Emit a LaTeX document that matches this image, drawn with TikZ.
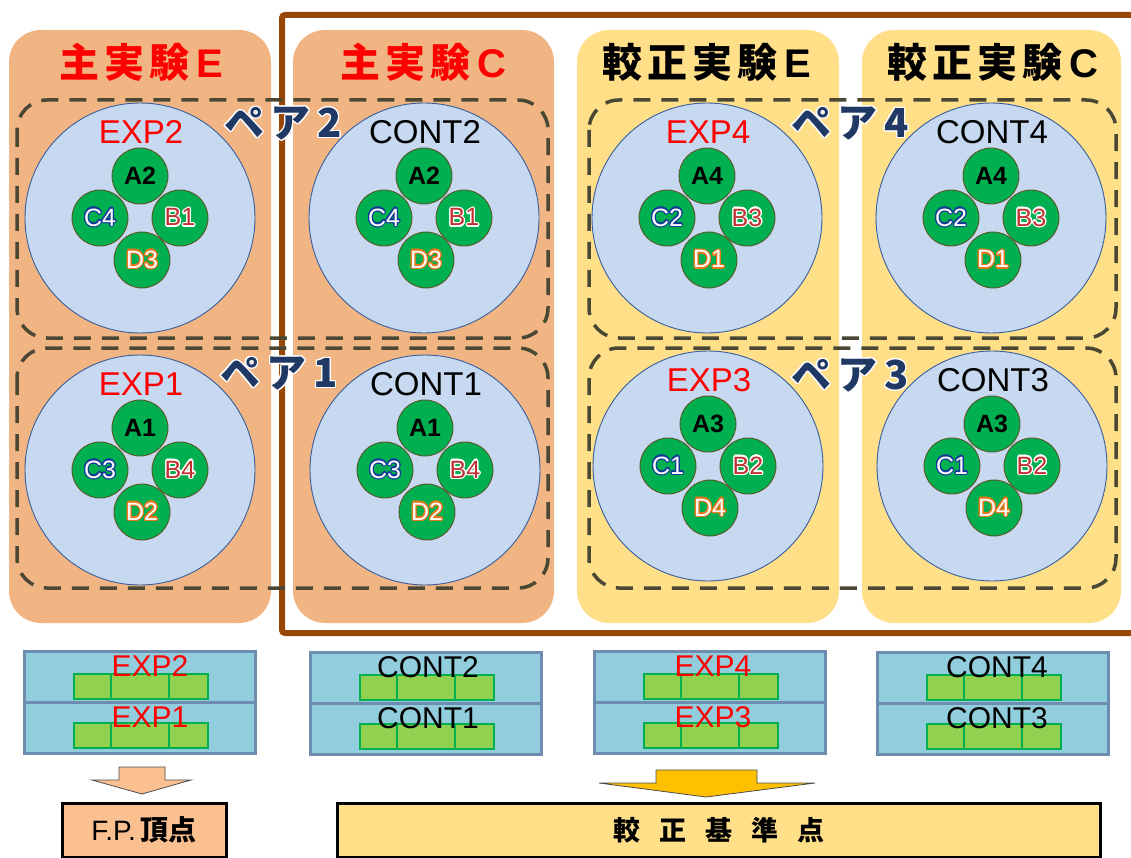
\documentclass[tikz,border=0pt]{standalone}
\usepackage{fontspec}
\setmainfont{Liberation Sans}
\newfontfamily\jpfont{Noto Sans CJK JP}
\usepackage[copies]{contour}
\contourlength{1.2pt}
\contournumber{20}

\definecolor{panelorange}{RGB}{241,181,131}
\definecolor{panelyellow}{RGB}{255,223,136}
\definecolor{framebrown}{RGB}{151,72,6}
\definecolor{pairgray}{RGB}{74,72,52}
\definecolor{pairnavy}{RGB}{31,56,100}
\definecolor{dishblue}{RGB}{198,217,240}
\definecolor{dishedge}{RGB}{56,93,160}
\definecolor{spotgreen}{RGB}{0,176,80}
\definecolor{spotedge}{RGB}{95,85,40}
\definecolor{bred}{RGB}{192,50,50}
\definecolor{cblue}{RGB}{20,60,150}
\definecolor{dorange}{RGB}{230,120,30}
\definecolor{trayblue}{RGB}{146,205,221}
\definecolor{trayedge}{RGB}{110,140,175}
\definecolor{brickgreen}{RGB}{146,208,80}
\definecolor{brickedge}{RGB}{0,176,80}
\definecolor{fporange}{RGB}{250,192,144}
\definecolor{goldarrow}{RGB}{255,192,0}

% spaced heading: CJK part, then latin letter
\newcommand{\heading}[2]{{\jpfont\bfseries #1}\hspace{7pt}{\bfseries #2}}
\newcommand{\gap}{\hspace{5pt}}

\tikzset{
  panel/.style={fill=#1, rounded corners=32pt},
  title/.style={font=\fontsize{40}{46}\selectfont, inner sep=0pt},
  pairbox/.style={draw=pairgray, line width=3.5pt, dash pattern=on 17pt off 11pt, rounded corners=30pt},
  pairlabel/.style={text=pairnavy, font=\jpfont\bfseries\fontsize{40}{44}\selectfont, inner sep=0pt},
  dish/.style={circle, draw=dishedge, fill=dishblue, line width=0.9pt, minimum size=230pt, inner sep=0pt},
  dishlabel/.style={font=\fontsize{33}{36}\selectfont, inner sep=0pt},
  spot/.style={circle, draw=spotedge, fill=spotgreen, line width=0.9pt, minimum size=56pt, inner sep=0pt, font=\fontsize{25}{25}\selectfont},
  tray/.style={draw=trayedge, fill=trayblue, line width=3pt},
  brick/.style={draw=brickedge, fill=brickgreen, line width=2.5pt},
  traylabel/.style={font=\fontsize{30}{32}\selectfont, inner sep=0pt},
  blockarrow/.style={draw=black!70, line width=0.8pt, fill=#1},
  resultbox/.style={draw=black, line width=3pt, fill=#1, inner sep=0pt}
}

\begin{document}
\begin{tikzpicture}[x=1pt,y=-1pt]
\useasboundingbox (0,0) rectangle (1131,858);

% columns
\fill[panel=panelorange] (9,30) rectangle (271,623);
\fill[panel=panelorange] (293,30) rectangle (554,623);
\fill[panel=panelyellow] (577,30) rectangle (839,623);
\fill[panel=panelyellow] (862,30) rectangle (1121,623);

\node[title, text=red] (mainE) at (141,62) {\heading{主\gap 実\gap 験}{E}};
\node[title, text=red] (mainC) at (423,62) {\heading{主\gap 実\gap 験}{C}};
\node[title] (calE) at (707,62) {\heading{較\gap 正\gap 実\gap 験}{E}};
\node[title] (calC) at (993,62) {\heading{較\gap 正\gap 実\gap 験}{C}};

% calibration frame
\draw[framebrown, line width=6pt, rounded corners=3pt] (1135,15) -- (282,15) -- (282,633) -- (1135,633);

% pairs
\draw[pairbox] (17,100) rectangle (548,338);
\draw[pairbox] (17,348) rectangle (548,588);
\draw[pairbox] (589,100) rectangle (1116,338);
\draw[pairbox] (589,348) rectangle (1116,588);

\foreach \cx/\cy/\nm/\col/\a/\b/\c/\d in {
    140/218/EXP2/red/A2/B1/C4/D3, 424/218/CONT2/black/A2/B1/C4/D3,
    707/218/EXP4/red/A4/B3/C2/D1, 991/218/CONT4/black/A4/B3/C2/D1,
    140/470/EXP1/red/A1/B4/C3/D2, 425/470/CONT1/black/A1/B4/C3/D2,
    708/466/EXP3/red/A3/B2/C1/D4, 992/466/CONT3/black/A3/B2/C1/D4}{
  \node[dish] (dish\nm) at (\cx,\cy) {};
  \node[dishlabel, text=\col] (lab\nm) at (\cx+1,\cy-86) {\nm};
  \node[spot] (a\nm) at (\cx,\cy-42) {\textbf{\a}};
  \node[spot] (b\nm) at (\cx+40,\cy) {\contour{white}{\textcolor{bred}{\b}}};
  \node[spot] (c\nm) at (\cx-40,\cy) {\contour{cblue}{\textcolor{white}{\c}}};
  \node[spot] (d\nm) at (\cx+2,\cy+42) {\contour{dorange}{\textcolor{white}{\d}}};
}

\node[pairlabel] (pair2) at (283,124) {\contour{white}{ペ\,ア\,2}};
\node[pairlabel] (pair1) at (279,374) {\contour{white}{ペ\,ア\,1}};
\node[pairlabel] (pair4) at (850,124) {\contour{white}{ペ\,ア\,4}};
\node[pairlabel] (pair3) at (850,376) {\contour{white}{ペ\,ア\,3}};

% trays
\foreach \sx/\sy/\lx/\nmA/\nmB/\col/\gx in {
    24/651/150/EXP2/EXP1/red/74, 310/652/428/CONT2/CONT1/black/360,
    594/651/713/EXP4/EXP3/red/644, 877/652/997/CONT4/CONT3/black/927}{
  \draw[tray] (\sx,\sy) rectangle ++(231,51);
  \draw[tray] (\sx,\sy+51) rectangle ++(231,51);
  \foreach \dy in {23,72}{
    \draw[brick] (\gx,\sy+\dy) rectangle ++(37,25);
    \draw[brick] (\gx+37,\sy+\dy) rectangle ++(58,25);
    \draw[brick] (\gx+95,\sy+\dy) rectangle ++(39,25);
  }
  \node[traylabel, text=\col] (top\nmA) at (\lx,\sy+15) {\nmA};
  \node[traylabel, text=\col] (bot\nmB) at (\lx,\sy+66) {\nmB};
}

% results
\draw[blockarrow=fporange] (119,767) -- (165,767) -- (165,780) -- (191,780) -- (142,794) -- (92,780) -- (119,780) -- cycle;
\draw[blockarrow=goldarrow] (656,770) -- (757,770) -- (757,783) -- (815,783) -- (706,797) -- (599,783) -- (656,783) -- cycle;

\node[resultbox=fporange, minimum width=164pt, minimum height=54pt] (fp) at (144,830)
  {\fontsize{28}{28}\selectfont F.P.\,{\jpfont\bfseries 頂点}};
\node[resultbox=panelyellow, minimum width=763pt, minimum height=54pt] (base) at (719,830)
  {\jpfont\bfseries\fontsize{27}{27}\selectfont 較\hspace{19pt}正\hspace{19pt}基\hspace{19pt}準\hspace{19pt}点};
\end{tikzpicture}
\end{document}
